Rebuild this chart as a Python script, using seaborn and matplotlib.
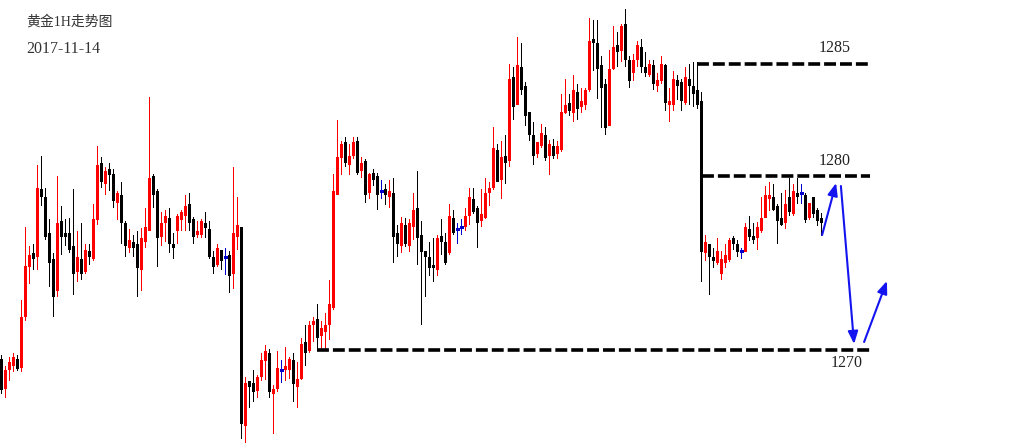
import numpy as np
import pandas as pd
import matplotlib
matplotlib.use("Agg")
import matplotlib.pyplot as plt
import seaborn as sns

# ---------------- data (hourly gold candles) ----------------
opens = [
    1270.85, 1269.4, 1270.35, 1270.55, 1270.85, 1270.45, 1273.0, 1275.5, 1276.15, 1276.0,
    1279.35, 1278.95, 1277.15, 1275.85, 1274.3, 1277.75, 1277.15, 1277.15, 1276.5, 1275.25,
    1275.85, 1275.25, 1276.25, 1275.9, 1277.85, 1280.65, 1279.65, 1280.35, 1280.1, 1278.7,
    1279.05, 1277.65, 1276.45, 1276.7, 1276.6, 1275.35, 1276.75, 1277.3, 1280.0, 1279.25,
    1277.0, 1277.7, 1277.9, 1276.6, 1277.3, 1277.85, 1278.05, 1278.6, 1277.85, 1277.1,
    1277.1, 1277.65, 1277.35, 1275.95, 1275.6, 1276.3, 1275.95, 1276.05, 1275.15, 1277.0,
    1277.45, 1267.55, 1269.75, 1269.65, 1269.3, 1270.0, 1270.8, 1271.15, 1269.15, 1269.4,
    1270.3, 1270.35, 1270.35, 1270.8, 1269.5, 1269.9, 1271.7, 1271.3, 1272.6, 1272.85,
    1272.05, 1272.25, 1272.6, 1273.45, 1279.1, 1280.95, 1281.7, 1280.6, 1281.05, 1281.75,
    1280.3, 1280.75, 1279.2, 1280.15, 1280.0, 1279.25, 1279.35, 1279.0, 1279.15, 1277.15,
    1276.55, 1277.55, 1276.55, 1277.5, 1278.4, 1277.05, 1276.25, 1275.95, 1275.55, 1275.35,
    1277.0, 1276.7, 1276.2, 1277.9, 1277.35, 1277.45, 1277.5, 1278.05, 1278.85, 1278.4,
    1277.8, 1277.95, 1279.2, 1279.45, 1281.3, 1279.85, 1281.0, 1280.8, 1284.95, 1283.6,
    1285.45, 1284.5, 1283.2, 1282.05, 1281.15, 1281.55, 1282.05, 1281.05, 1281.5, 1281.15,
    1281.35, 1283.2, 1283.65, 1283.2, 1284.2, 1283.5, 1283.6, 1284.35, 1286.85, 1286.65,
    1285.55, 1284.6, 1282.55, 1285.4, 1286.55, 1286.3, 1287.6, 1285.8, 1285.2, 1285.85,
    1286.45, 1285.45, 1285.1, 1285.55, 1284.55, 1284.8, 1285.55, 1283.6, 1283.6, 1284.8,
    1284.7, 1283.7, 1284.85, 1284.5, 1284.3, 1283.75, 1276.2, 1276.6, 1275.95, 1275.7,
    1275.15, 1275.7, 1275.85, 1276.9, 1276.6, 1276.25, 1276.25, 1277.35, 1277.0, 1276.95,
    1277.3, 1277.95, 1278.9, 1278.95, 1278.5, 1277.9, 1277.7, 1278.95, 1278.15, 1279.15,
    1279.15, 1279.05, 1277.95, 1278.95, 1278.3, 1277.9,
]
closes = [
    1269.35, 1270.3, 1270.7, 1270.95, 1270.4, 1272.95, 1275.5, 1276.05, 1275.9, 1279.4,
    1279.0, 1277.0, 1275.7, 1274.0, 1277.65, 1277.0, 1277.0, 1276.35, 1275.15, 1275.95,
    1275.15, 1276.3, 1276.0, 1277.85, 1280.55, 1279.75, 1280.25, 1280.1, 1278.8, 1279.15,
    1277.7, 1276.55, 1276.8, 1276.45, 1275.45, 1276.9, 1277.45, 1279.9, 1279.1, 1276.95,
    1277.65, 1278.0, 1276.65, 1276.45, 1278.0, 1278.2, 1278.5, 1277.7, 1277.0, 1277.25,
    1277.75, 1277.45, 1276.0, 1275.5, 1276.4, 1275.8, 1275.95, 1275.05, 1277.15, 1277.55,
    1267.65, 1269.65, 1269.5, 1269.25, 1269.95, 1270.8, 1271.25, 1269.25, 1269.35, 1270.4,
    1270.3, 1270.5, 1270.85, 1269.65, 1269.85, 1271.6, 1271.2, 1272.55, 1272.75, 1271.95,
    1272.4, 1272.55, 1273.6, 1279.25, 1280.95, 1281.6, 1280.7, 1281.0, 1281.7, 1280.2,
    1280.65, 1279.1, 1280.1, 1279.85, 1279.1, 1279.25, 1279.1, 1279.25, 1277.0, 1276.65,
    1277.65, 1276.65, 1277.65, 1278.3, 1276.95, 1276.25, 1276.0, 1275.45, 1275.45, 1276.9,
    1276.75, 1275.7, 1278.0, 1277.2, 1277.35, 1277.45, 1278.0, 1278.95, 1278.25, 1277.7,
    1278.1, 1279.15, 1279.4, 1281.4, 1279.75, 1280.95, 1280.7, 1284.85, 1283.5, 1285.55,
    1284.35, 1283.05, 1282.1, 1281.05, 1281.7, 1282.15, 1280.95, 1281.6, 1281.05, 1281.5,
    1283.2, 1283.55, 1283.3, 1284.3, 1283.4, 1283.75, 1284.3, 1286.75, 1286.7, 1285.4,
    1284.45, 1282.45, 1285.35, 1286.45, 1286.25, 1287.5, 1285.85, 1284.8, 1285.8, 1286.55,
    1285.5, 1285.2, 1285.6, 1284.65, 1284.8, 1285.6, 1283.7, 1283.75, 1284.85, 1284.55,
    1283.8, 1284.95, 1284.55, 1284.15, 1283.6, 1276.25, 1276.7, 1276.0, 1275.8, 1276.25,
    1275.85, 1276.05, 1276.8, 1276.65, 1276.25, 1276.25, 1277.45, 1277.0, 1276.85, 1277.45,
    1277.9, 1279.05, 1279.05, 1278.35, 1277.8, 1277.6, 1278.6, 1278.25, 1279.25, 1279.0,
    1279.15, 1277.85, 1278.65, 1278.15, 1277.8, 1277.7,
]
highs = [
    1271.05, 1270.5, 1270.95, 1271.15, 1271.05, 1273.8, 1277.45, 1276.5, 1276.6, 1280.55,
    1281.0, 1279.4, 1277.85, 1276.15, 1280.0, 1278.5, 1277.85, 1277.9, 1279.35, 1277.25,
    1277.65, 1276.6, 1276.6, 1278.6, 1281.5, 1280.95, 1280.45, 1280.65, 1280.35, 1279.25,
    1279.7, 1277.75, 1277.35, 1277.05, 1277.25, 1277.4, 1278.4, 1283.95, 1280.1, 1279.35,
    1278.2, 1278.3, 1278.4, 1277.15, 1278.1, 1278.3, 1279.05, 1279.15, 1277.95, 1277.75,
    1277.85, 1278.2, 1277.75, 1276.25, 1276.6, 1276.3, 1276.4, 1276.25, 1280.45, 1278.95,
    1277.45, 1269.95, 1269.75, 1270.3, 1270.05, 1271.15, 1271.55, 1271.35, 1269.55, 1271.25,
    1270.8, 1271.45, 1270.95, 1271.15, 1270.7, 1271.9, 1272.55, 1272.75, 1272.95, 1273.6,
    1272.75, 1273.15, 1274.8, 1280.1, 1282.8, 1281.75, 1281.95, 1281.6, 1281.95, 1281.95,
    1280.95, 1280.85, 1280.15, 1280.35, 1280.15, 1279.8, 1279.6, 1279.8, 1279.9, 1277.55,
    1277.95, 1277.9, 1277.85, 1279.15, 1280.25, 1277.75, 1276.25, 1276.7, 1276.9, 1277.05,
    1277.85, 1277.15, 1278.6, 1278.3, 1277.65, 1277.85, 1278.4, 1279.4, 1279.4, 1278.5,
    1279.35, 1279.9, 1279.7, 1282.45, 1281.6, 1281.75, 1282.05, 1285.6, 1285.45, 1286.95,
    1286.65, 1284.7, 1283.2, 1282.7, 1281.7, 1282.6, 1282.45, 1281.8, 1281.85, 1281.75,
    1284.1, 1284.85, 1284.1, 1285.05, 1284.6, 1284.4, 1284.4, 1287.9, 1287.8, 1287.8,
    1286.0, 1284.85, 1286.3, 1287.5, 1287.2, 1287.6, 1288.35, 1286.0, 1286.1, 1286.75,
    1286.85, 1286.2, 1285.8, 1285.8, 1285.15, 1286.0, 1285.6, 1284.4, 1285.25, 1285.05,
    1284.85, 1285.45, 1285.6, 1285.7, 1285.7, 1284.2, 1277.05, 1276.6, 1276.4, 1276.9,
    1276.25, 1276.6, 1276.9, 1277.0, 1276.8, 1276.4, 1277.65, 1278.0, 1277.65, 1277.7,
    1278.95, 1279.5, 1279.7, 1279.6, 1278.6, 1279.15, 1279.3, 1279.9, 1279.6, 1279.9,
    1279.6, 1279.15, 1278.65, 1278.95, 1278.4, 1278.15,
]
lows = [
    1269.15, 1268.95, 1269.8, 1270.25, 1270.3, 1270.25, 1272.8, 1274.65, 1275.35, 1275.35,
    1278.55, 1276.85, 1274.5, 1273.0, 1274.0, 1276.1, 1276.55, 1276.2, 1274.1, 1274.75,
    1274.85, 1275.15, 1275.6, 1275.8, 1277.6, 1279.45, 1279.1, 1279.3, 1278.45, 1277.85,
    1276.65, 1276.0, 1276.2, 1276.0, 1274.0, 1274.3, 1276.45, 1277.3, 1278.45, 1275.5,
    1276.55, 1276.75, 1276.2, 1275.9, 1276.65, 1277.3, 1277.3, 1277.3, 1276.65, 1276.95,
    1276.95, 1276.95, 1275.9, 1275.15, 1275.5, 1275.35, 1275.1, 1274.2, 1274.4, 1276.35,
    1266.9, 1266.7, 1268.45, 1268.75, 1268.95, 1269.8, 1269.85, 1268.95, 1267.15, 1269.25,
    1269.7, 1269.8, 1269.9, 1268.75, 1268.45, 1269.85, 1270.55, 1271.2, 1271.75, 1271.3,
    1271.3, 1271.3, 1271.85, 1273.35, 1279.1, 1280.1, 1280.5, 1280.1, 1280.9, 1280.1,
    1279.95, 1278.7, 1278.9, 1279.55, 1278.35, 1278.9, 1278.6, 1278.45, 1275.7, 1276.0,
    1276.2, 1276.5, 1276.25, 1276.85, 1275.6, 1272.6, 1274.0, 1275.05, 1274.75, 1275.05,
    1276.1, 1275.6, 1276.1, 1277.1, 1276.65, 1277.1, 1277.3, 1277.6, 1278.15, 1276.45,
    1277.5, 1277.9, 1278.55, 1279.35, 1279.75, 1278.9, 1279.65, 1280.5, 1282.85, 1283.6,
    1284.1, 1282.55, 1281.8, 1280.6, 1280.95, 1281.45, 1280.8, 1280.1, 1280.9, 1280.9,
    1281.25, 1283.15, 1283.05, 1282.75, 1282.85, 1283.2, 1283.35, 1284.25, 1285.3, 1283.9,
    1282.45, 1282.1, 1282.55, 1285.35, 1285.5, 1285.75, 1285.5, 1284.45, 1284.8, 1285.5,
    1285.2, 1285.0, 1285.0, 1284.35, 1284.25, 1284.65, 1283.3, 1282.75, 1283.3, 1283.85,
    1283.3, 1283.6, 1283.6, 1283.5, 1283.4, 1274.75, 1275.8, 1274.1, 1275.45, 1275.6,
    1274.85, 1275.45, 1275.75, 1276.35, 1276.0, 1275.9, 1276.25, 1276.8, 1276.65, 1276.35,
    1277.2, 1277.95, 1278.3, 1278.3, 1276.65, 1277.55, 1277.4, 1278.05, 1278.05, 1278.65,
    1278.65, 1277.7, 1277.85, 1277.95, 1277.55, 1277.05,
]

# support / resistance levels drawn on the chart
level_values = [1285.6, 1280.0, 1271.3]
level_labels = ["1285", "1280", "1270"]
level_start = [173.9, 175.2, 78.9]
level_end = [216.7, 217.2, 217.9]
label_x = [208.4, 208.4, 211.4]
label_y = [1286.4, 1280.75, 1270.65]

# projected path arrows (candle index, price)
arrow_from_x = [205.2, 209.9, 215.7]
arrow_from_y = [1277.05, 1279.5, 1271.7]
arrow_to_x = [208.7, 213.2, 221.4]
arrow_to_y = [1279.65, 1271.6, 1274.75]

title_text = "黄金1H走势图"
date_text = "2017-11-14"

# ---------------- style ----------------
sns.set_theme(style="white")
plt.rcParams["font.family"] = ["Liberation Serif", "Noto Sans CJK SC", "DejaVu Sans"]

df = pd.DataFrame({
    "idx": np.arange(len(opens)),
    "open": opens, "high": highs, "low": lows, "close": closes,
})
df["kind"] = np.where(df["close"] > df["open"], "up",
                      np.where(df["close"] < df["open"], "down", "flat"))
palette = {"up": "#ff0000", "down": "#000000", "flat": "#0000cc"}
df["color"] = df["kind"].map(palette)

fig = plt.figure(figsize=(10.3, 4.48), dpi=100)
fig.patch.set_facecolor("white")
ax = fig.add_axes([0, 0, 1, 1])
ax.set_facecolor("white")

# wicks
ax.vlines(df["idx"], df["low"], df["high"], colors=df["color"],
          linewidth=0.72, antialiased=False, zorder=2)

# bodies (drawn as thick vertical segments, at least one pixel tall)
body = df[df["kind"] != "flat"]
lo = np.minimum(body["open"], body["close"])
hi = np.maximum(body["open"], body["close"])
hi = np.maximum(hi, lo + 0.06)
ax.vlines(body["idx"], lo, hi, colors=body["color"], linewidth=1.9,
          antialiased=False, capstyle="butt", zorder=3)

# doji crosses
flat = df[df["kind"] == "flat"]
ax.hlines(flat["open"], flat["idx"] - 0.4, flat["idx"] + 0.4,
          colors=flat["color"], linewidth=0.8, antialiased=False, zorder=3)

# levels via seaborn
for v, s, e in zip(level_values, level_start, level_end):
    sns.lineplot(x=[s, e], y=[v, v], ax=ax, color="black", linewidth=2.6,
                 linestyle=(0, (3.3, 1.1)), legend=False, zorder=4)

for lbl, x, y in zip(level_labels, label_x, label_y):
    ax.text(x, y, lbl, ha="center", va="center", fontsize=11.5, color="#222222")

# arrows
for fx, fy, tx, ty in zip(arrow_from_x, arrow_from_y, arrow_to_x, arrow_to_y):
    ax.annotate("", xy=(tx, ty), xytext=(fx, fy),
                arrowprops=dict(arrowstyle="-|>,head_length=0.75,head_width=0.3",
                                color="#1414f0", lw=1.5, mutation_scale=10,
                                shrinkA=0, shrinkB=0), zorder=5)

ax.text(26 / 1030, 1 - 22 / 448, title_text, transform=ax.transAxes,
        ha="left", va="center", fontsize=10, color="#333333")
ax.text(26 / 1030, 1 - 49 / 448, date_text, transform=ax.transAxes,
        ha="left", va="center", fontsize=11.5, color="#333333")

ax.set_xlim(-0.325, 257.175)
ax.set_ylim(1266.4, 1288.8)
ax.set_axis_off()

fig.savefig("out.png", dpi=100, facecolor="white")
